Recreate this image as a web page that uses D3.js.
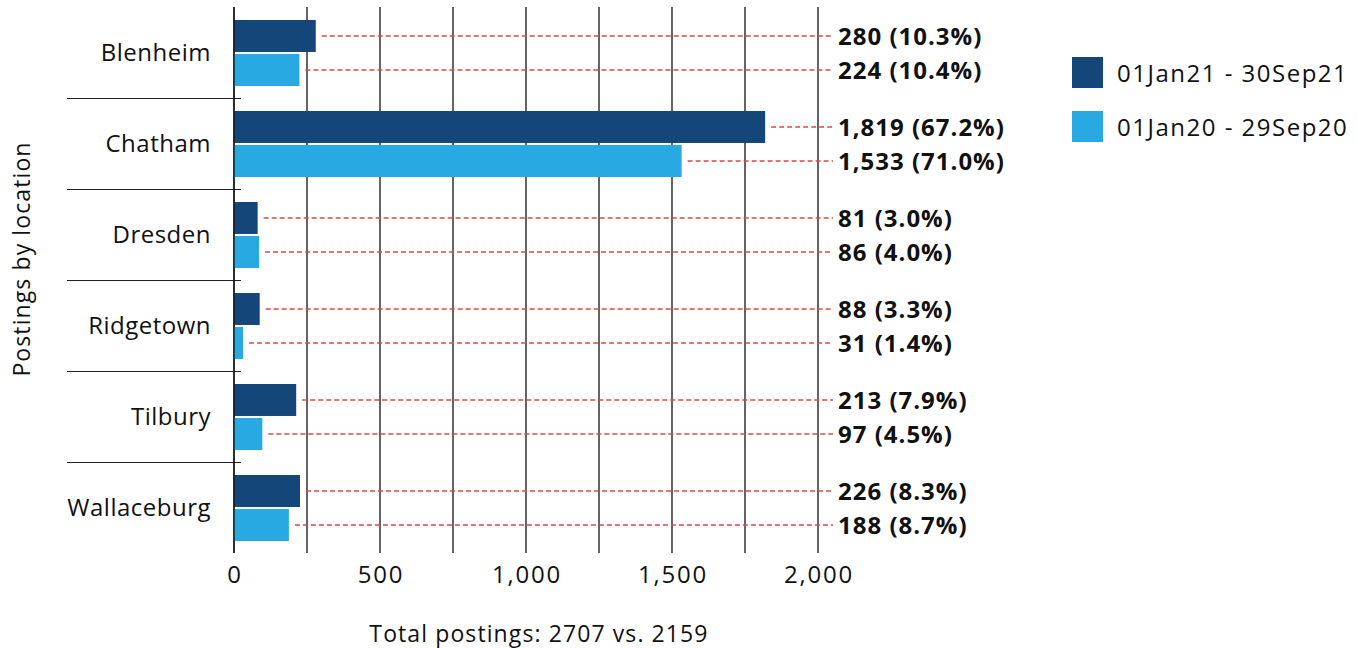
<!DOCTYPE html>
<html><head><meta charset="utf-8">
<script src="https://cdn.jsdelivr.net/npm/d3@7"></script>
<style>body{margin:0;background:#fff;font-family:"Open Sans",sans-serif;}</style>
</head><body>
<svg id="c" width="1357" height="648"></svg>
<script>
const categories = ["Blenheim","Chatham","Dresden","Ridgetown","Tilbury","Wallaceburg"];
const seriesNames = ["01Jan21 - 30Sep21","01Jan20 - 29Sep20"];
const values2021 = [280,1819,81,88,213,226];
const values2020 = [224,1533,86,31,97,188];
const pct2021 = ["10.3%","67.2%","3.0%","3.3%","7.9%","8.3%"];
const pct2020 = ["10.4%","71.0%","4.0%","1.4%","4.5%","8.7%"];
const xTicks = [0,500,1000,1500,2000];
const gridTicks = [0,250,500,750,1000,1250,1500,1750,2000];
const colors = ["#15467a","#29a9e1"];

const svg = d3.select("#c");
const x = d3.scaleLinear().domain([0,2000]).range([234,818]);
const y = d3.scaleBand().domain(categories).range([7,553]);
const inner = d3.scaleBand().domain([0,1]).range([13,79]).paddingInner(0.06);
const font = "'Open Sans', sans-serif";

svg.append("g").selectAll("line").data(gridTicks).join("line")
  .attr("x1",d=>x(d)).attr("x2",d=>x(d)).attr("y1",7).attr("y2",553)
  .attr("stroke","#111").attr("stroke-width",1.3);

svg.append("g").selectAll("line").data(categories.slice(1)).join("line")
  .attr("x1",67).attr("x2",241).attr("y1",d=>Math.round(y(d))+0.5).attr("y2",d=>Math.round(y(d))+0.5)
  .attr("stroke","#222").attr("stroke-width",1.2);

const rows = [];
categories.forEach((c,i)=>{
  rows.push({c,s:0,v:values2021[i],p:pct2021[i]});
  rows.push({c,s:1,v:values2020[i],p:pct2020[i]});
});
const cy = d => Math.round(y(d.c)+inner(d.s)+inner.bandwidth()/2);

const g = svg.append("g");
g.selectAll("rect").data(rows).join("rect")
  .attr("x",x(0)).attr("y",d=>y(d.c)+inner(d.s))
  .attr("width",d=>x(d.v)-x(0)).attr("height",inner.bandwidth())
  .attr("fill",d=>colors[d.s]);

g.selectAll("line.lead").data(rows).join("line").attr("class","lead")
  .attr("x1",d=>x(d.v)+6).attr("x2",833)
  .attr("y1",cy).attr("y2",cy)
  .attr("stroke","#dc4a44").attr("stroke-width",1.6).attr("stroke-dasharray","5,3");

g.selectAll("text.val").data(rows).join("text").attr("class","val")
  .attr("x",838).attr("y",cy)
  .attr("dy","0.36em").attr("font-family",font).attr("font-weight","bold")
  .attr("font-size",24).attr("letter-spacing",1).attr("fill","#111")
  .text(d=>d3.format(",")(d.v)+" ("+d.p+")");

svg.append("line").attr("x1",x(0)).attr("x2",x(0)).attr("y1",7).attr("y2",553)
  .attr("stroke","#111").attr("stroke-width",1.3);

svg.append("g").selectAll("text").data(categories).join("text")
  .attr("x",211).attr("y",d=>y(d)+y.bandwidth()/2).attr("dy","0.36em")
  .attr("text-anchor","end").attr("font-family",font).attr("font-size",24)
  .attr("letter-spacing",0.5).attr("fill","#111")
  .text(d=>d);

svg.append("g").selectAll("text").data(xTicks).join("text")
  .attr("x",d=>x(d)+1).attr("y",574).attr("dy","0.36em")
  .attr("text-anchor","middle").attr("font-family",font).attr("font-size",24)
  .attr("letter-spacing",1.8).attr("fill","#111")
  .text(d=>d3.format(",")(d));

svg.append("text").attr("x",539).attr("y",634).attr("dy","0.36em")
  .attr("text-anchor","middle").attr("font-family",font).attr("font-size",23)
  .attr("letter-spacing",1.1).attr("fill","#111")
  .text("Total postings: 2707 vs. 2159");
svg.append("text").attr("transform","translate(22,259) rotate(-90)").attr("dy","0.36em")
  .attr("text-anchor","middle").attr("font-family",font).attr("font-size",23)
  .attr("letter-spacing",1.1).attr("fill","#111")
  .text("Postings by location");

const lg = svg.append("g").selectAll("g").data(seriesNames).join("g")
  .attr("transform",(d,i)=>`translate(1072,${57+i*54})`);
lg.append("rect").attr("width",31).attr("height",31).attr("fill",(d,i)=>colors[i]);
lg.append("text").attr("x",45).attr("y",16).attr("dy","0.36em")
  .attr("font-family",font).attr("font-size",24).attr("letter-spacing",1.5)
  .attr("fill","#111").text(d=>d);
</script>
</body></html>
